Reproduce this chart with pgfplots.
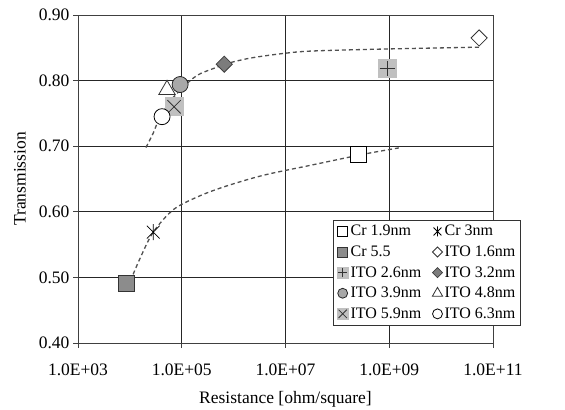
\documentclass[border=0pt]{standalone}
\usepackage{fontspec}
\setmainfont{Liberation Serif}
\usepackage{pgfplots}
\pgfplotsset{compat=1.18}

\definecolor{lgray}{HTML}{C0C0C0}
\definecolor{mgray}{HTML}{8C8C8C}
\definecolor{cgray}{HTML}{A8A8A8}
\definecolor{dgray}{HTML}{7C7C7C}
\definecolor{tline}{HTML}{505050}

\pgfdeclareplotmark{xast}{%
  \pgfpathmoveto{\pgfpoint{0pt}{\pgfplotmarksize}}\pgfpathlineto{\pgfpoint{0pt}{-\pgfplotmarksize}}%
  \pgfpathmoveto{\pgfpoint{-0.8\pgfplotmarksize}{0.8\pgfplotmarksize}}\pgfpathlineto{\pgfpoint{0.8\pgfplotmarksize}{-0.8\pgfplotmarksize}}%
  \pgfpathmoveto{\pgfpoint{-0.8\pgfplotmarksize}{-0.8\pgfplotmarksize}}\pgfpathlineto{\pgfpoint{0.8\pgfplotmarksize}{0.8\pgfplotmarksize}}%
  \pgfusepath{stroke}}
\pgfdeclareplotmark{sqplus}{%
  \pgfpathrectangle{\pgfpoint{-\pgfplotmarksize}{-\pgfplotmarksize}}{\pgfpoint{2\pgfplotmarksize}{2\pgfplotmarksize}}%
  \pgfusepath{fill}%
  \pgfpathmoveto{\pgfpoint{-0.8\pgfplotmarksize}{0pt}}\pgfpathlineto{\pgfpoint{0.8\pgfplotmarksize}{0pt}}%
  \pgfpathmoveto{\pgfpoint{0pt}{-0.8\pgfplotmarksize}}\pgfpathlineto{\pgfpoint{0pt}{0.8\pgfplotmarksize}}%
  \pgfusepath{stroke}}
\pgfdeclareplotmark{sqcross}{%
  \pgfpathrectangle{\pgfpoint{-\pgfplotmarksize}{-\pgfplotmarksize}}{\pgfpoint{2\pgfplotmarksize}{2\pgfplotmarksize}}%
  \pgfusepath{fill}%
  \pgfpathmoveto{\pgfpoint{-0.7\pgfplotmarksize}{-0.7\pgfplotmarksize}}\pgfpathlineto{\pgfpoint{0.7\pgfplotmarksize}{0.7\pgfplotmarksize}}%
  \pgfpathmoveto{\pgfpoint{-0.7\pgfplotmarksize}{0.7\pgfplotmarksize}}\pgfpathlineto{\pgfpoint{0.7\pgfplotmarksize}{-0.7\pgfplotmarksize}}%
  \pgfusepath{stroke}}

\begin{document}
\begin{tikzpicture}
\begin{axis}[
  scale only axis,
  width=415pt, height=328pt,
  xmode=log, log basis x=10,
  xmin=1e3, xmax=1e11,
  ymin=0.4, ymax=0.9,
  xtick={1e3,1e5,1e7,1e9,1e11},
  xticklabels={1.0E+03,1.0E+05,1.0E+07,1.0E+09,1.0E+11},
  ytick={0.4,0.5,0.6,0.7,0.8,0.9},
  yticklabels={0.40,0.50,0.60,0.70,0.80,0.90},
  minor xtick={}, minor ytick={},
  xminorticks=false,
  grid=major,
  major grid style={black!85, line width=0.8pt},
  axis line style={black!75, line width=0.8pt},
  tick style={black!75, line width=0.8pt},
  tick align=outside,
  major tick length=5pt,
  xtick pos=bottom, ytick pos=left,
  ticklabel style={font=\fontsize{17.5}{17.5}\selectfont},
  xticklabel style={yshift=-12pt},
  xlabel={Resistance [ohm/square]},
  ylabel={Transmission},
  every axis y label/.style={at={(rel axis cs:0,0.5)}, anchor=center, rotate=90, yshift=58pt, font=\fontsize{17.5}{17.5}\selectfont},
  every axis x label/.style={at={(rel axis cs:0.5,0)}, anchor=center, yshift=-56pt, font=\fontsize{17.5}{17.5}\selectfont},
  legend columns=2,
  legend style={at={(rel axis cs:1.067,0.375)}, anchor=north east, draw=black!80, line width=0.8pt, fill=white,
    font=\fontsize{16}{16}\selectfont, inner sep=3pt,
    /tikz/every even column/.append style={column sep=9pt},
    row sep=4.5pt},
  legend cell align=left,
  legend image post style={/tikz/every mark/.append style={scale=0.62}},
  every axis plot/.append style={line width=0.8pt},
]
% Cr 1.9nm
\addplot[only marks, mark=square*, mark size=8pt, mark options={fill=white, draw=black}] coordinates {(2.51e8,0.687)};
\addlegendentry{Cr 1.9nm}
% Cr 3nm
\addplot[only marks, mark=xast, mark size=8pt, mark options={draw=black}] coordinates {(2.82e4,0.569)};
\addlegendentry{Cr 3nm}
% Cr 5.5
\addplot[only marks, mark=square*, mark size=8pt, mark options={fill=mgray, draw=black!80}] coordinates {(8.5e3,0.491)};
\addlegendentry{Cr 5.5}
% ITO 1.6nm
\addplot[only marks, mark=square*, mark size=5.7pt, mark options={rotate=45, fill=white, draw=black!80}] coordinates {(5.4e10,0.865)};
\addlegendentry{ITO 1.6nm}
% ITO 2.6nm
\addplot[only marks, mark=sqplus, mark size=9.5pt, mark options={fill=lgray, draw=black!80}] coordinates {(9.1e8,0.819)};
\addlegendentry{ITO 2.6nm}
% ITO 3.2nm
\addplot[only marks, mark=square*, mark size=5.7pt, mark options={rotate=45, fill=dgray, draw=black!75}] coordinates {(6.6e5,0.825)};
\addlegendentry{ITO 3.2nm}
% ITO 3.9nm
\addplot[only marks, mark=*, mark size=8pt, mark options={fill=cgray, draw=black!85}] coordinates {(9.3e4,0.794)};
\addlegendentry{ITO 3.9nm}
% ITO 4.8nm
\addplot[only marks, mark=triangle*, mark size=9.5pt, mark options={fill=white, draw=black!80}] coordinates {(5.2e4,0.786)};
\addlegendentry{ITO 4.8nm}
% ITO 5.9nm
\addplot[only marks, mark=sqcross, mark size=9.5pt, mark options={fill=lgray, draw=black!80}] coordinates {(7.1e4,0.760)};
\addlegendentry{ITO 5.9nm}
% ITO 6.3nm
\addplot[only marks, mark=*, mark size=8pt, mark options={fill=white, draw=black}] coordinates {(4.17e4,0.745)};
\addlegendentry{ITO 6.3nm}

% trend lines
\addplot[forget plot, smooth, tline, line width=1.3pt, dash pattern=on 4pt off 3pt] coordinates {
(2.04e4,0.698) (2.82e4,0.720) (3.47e4,0.737) (5.62e4,0.766) (8.51e4,0.782) (1.51e5,0.801)
(2.34e5,0.811) (5.01e5,0.821) (6.61e5,0.825) (2.0e6,0.834) (8.32e6,0.841) (3.09e7,0.845)
(6.92e8,0.848) (5.89e10,0.851)};
\addplot[forget plot, smooth, tline, line width=1.3pt, dash pattern=on 4pt off 3pt] coordinates {
(9.12e3,0.485) (1.51e4,0.526) (2.82e4,0.569) (7.08e4,0.604) (2.34e5,0.625) (7.76e5,0.640)
(3.89e6,0.656) (3.09e7,0.671) (3.31e8,0.688) (1.70e9,0.698)};
\end{axis}
\pgfresetboundingbox
\path ([xshift=-78pt,yshift=-67pt]current axis.south west) rectangle ([xshift=72pt,yshift=15pt]current axis.north east);
\end{tikzpicture}
\end{document}
